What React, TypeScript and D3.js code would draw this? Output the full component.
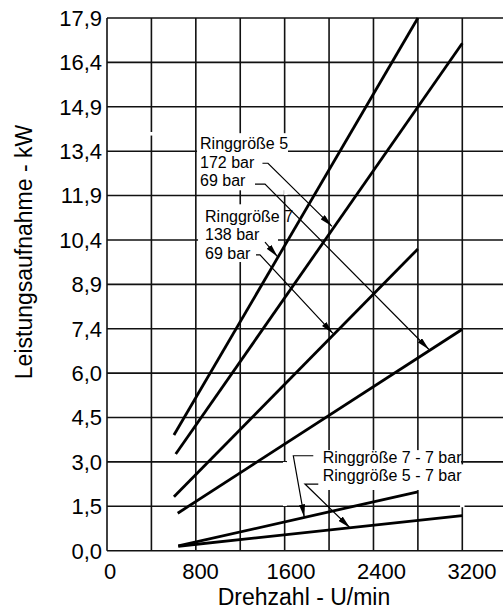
import React, { useEffect, useRef } from 'react';
import * as d3 from 'd3';

// x axis (Drehzahl) and y axis (Leistungsaufnahme) ticks
const xTickValues = [0, 800, 1600, 2400, 3200];
const xGridValues = [0, 400, 800, 1200, 1600, 2000, 2400, 2800, 3200, 3600];
const yTickLabels = ['0,0', '1,5', '3,0', '4,5', '6,0', '7,4', '8,9', '10,4', '11,9', '13,4', '14,9', '16,4', '17,9'];
const yMax = 17.9;

// curves as [U/min, kW]
const rg7bar138 = [[603, 3.89], [2800, 17.9]];
const rg5bar172 = [[619, 3.25], [3200, 17.05]];
const rg7bar69 = [[603, 1.81], [2800, 10.14]];
const rg5bar69 = [[637, 1.26], [3200, 7.44]];
const rg7bar7 = [[642, 0.16], [2800, 1.98]];
const rg5bar7 = [[642, 0.15], [3200, 1.18]];
const curves = [rg7bar138, rg5bar172, rg7bar69, rg5bar69, rg7bar7, rg5bar7];

// label blocks: text lines, anchor [U/min, kW]
const labelBlocks = [
  { lines: ['Ringgröße 5', '172 bar', '69 bar'], at: [838, 13.49] },
  { lines: ['Ringgröße 7', '138 bar', '69 bar'], at: [883, 11.05] },
  { lines: ['Ringgröße 7 - 7 bar', 'Ringgröße 5 - 7 bar'], at: [1943, 2.95] },
];

// leader arrows, last point is the tip
const leaders = [
  [[1400, 13.02], [1450, 13.02], [2026, 10.9]],
  [[1333, 12.32], [1423, 12.32], [2900, 6.76]],
  [[1423, 10.37], [1536, 9.88]],
  [[1342, 9.94], [1378, 9.94], [2035, 7.3]],
  [[1858, 3.19], [1678, 3.19], [1777, 1.12]],
  [[1903, 2.24], [1783, 2.24], [2188, 0.77]],
];

// white areas behind labels that hide the grid: [x0, x1, kWtop, kWbottom]
const gridMasks = [
  [811, 1630, 14.03, 12.11],
  [1595, 1625, 13.38, 11.95],
  [1625, 1630, 11.85, 11.47],
  [820, 1540, 11.64, 9.7],
  [1621, 3188, 3.38, 2.04],
  [1585, 1620, 2.98, 1.5],
  [3180, 3220, 2.9, 1.46],
  [380, 420, 14.07, 13.95],
];

const Chart = () => {
  const svgRef = useRef<SVGSVGElement>(null);

  useEffect(() => {
    const svg = d3.select(svgRef.current);
    const width = 503;
    const height = 614;
    const font = '"Liberation Sans", Arial, Helvetica, sans-serif';
    const lineGap = 18.5;

    svg.attr('width', width).attr('height', height);

    const x = d3.scaleLinear().domain([0, 3200]).range([107, 462.3]);
    const y = d3.scaleLinear().domain([0, yMax]).range([550.7, 18]);
    const yTicks = yTickLabels.map((_, i) => (i * yMax) / 12);

    svg
      .append('defs')
      .append('marker')
      .attr('id', 'arrowhead')
      .attr('viewBox', '0 0 13 6')
      .attr('refX', 13)
      .attr('refY', 3)
      .attr('markerWidth', 13)
      .attr('markerHeight', 6)
      .attr('markerUnits', 'userSpaceOnUse')
      .attr('orient', 'auto')
      .append('path')
      .attr('d', 'M0,0 L13,3 L0,6 Z')
      .attr('fill', '#000');

    // grid
    const grid = svg.append('g').attr('stroke', '#111').attr('stroke-width', 1.6);
    grid
      .selectAll('line.v')
      .data(xGridValues)
      .enter()
      .append('line')
      .attr('class', 'v')
      .attr('x1', d => x(d))
      .attr('x2', d => x(d))
      .attr('y1', y(0))
      .attr('y2', y(yMax));
    grid
      .selectAll('line.h')
      .data(yTicks)
      .enter()
      .append('line')
      .attr('class', 'h')
      .attr('x1', x(0))
      .attr('x2', x(3600))
      .attr('y1', d => y(d))
      .attr('y2', d => y(d));

    // masks behind the labels
    svg
      .selectAll('rect.mask')
      .data(gridMasks)
      .enter()
      .append('rect')
      .attr('class', 'mask')
      .attr('x', d => x(d[0]))
      .attr('width', d => x(d[1]) - x(d[0]))
      .attr('y', d => y(d[2]))
      .attr('height', d => y(d[3]) - y(d[2]))
      .attr('fill', '#fff');

    // tick labels
    svg
      .selectAll('text.ytick')
      .data(yTicks)
      .enter()
      .append('text')
      .attr('class', 'ytick')
      .attr('x', 102)
      .attr('y', d => y(d))
      .attr('dy', '0.36em')
      .attr('text-anchor', 'end')
      .style('font-family', font)
      .style('font-size', '22px')
      .text((_, i) => yTickLabels[i]);

    // x labels sit a little right of their grid lines in the original
    const xLabel = d3.scaleLinear().domain([0, 3200]).range([110, 472]);
    svg
      .selectAll('text.xtick')
      .data(xTickValues)
      .enter()
      .append('text')
      .attr('class', 'xtick')
      .attr('x', d => xLabel(d))
      .attr('y', 579)
      .attr('text-anchor', 'middle')
      .style('font-family', font)
      .style('font-size', '22px')
      .text(d => String(d));

    // axis titles
    svg
      .append('text')
      .attr('x', 304)
      .attr('y', 605)
      .attr('text-anchor', 'middle')
      .style('font-family', font)
      .style('font-size', '23px')
      .text('Drehzahl - U/min');
    svg
      .append('text')
      .attr('transform', 'translate(32,252) rotate(-90)')
      .attr('text-anchor', 'middle')
      .style('font-family', font)
      .style('font-size', '23px')
      .text('Leistungsaufnahme - kW');

    // curves
    const line = d3
      .line<number[]>()
      .x(d => x(d[0]))
      .y(d => y(d[1]));
    svg
      .selectAll('path.curve')
      .data(curves)
      .enter()
      .append('path')
      .attr('class', 'curve')
      .attr('d', d => line(d))
      .attr('fill', 'none')
      .attr('stroke', '#000')
      .attr('stroke-width', 2.8);

    // leaders with arrows
    svg
      .selectAll('path.leader')
      .data(leaders)
      .enter()
      .append('path')
      .attr('class', 'leader')
      .attr('d', d => line(d))
      .attr('fill', 'none')
      .attr('stroke', '#000')
      .attr('stroke-width', 1.2)
      .attr('marker-end', 'url(#arrowhead)');

    // label text
    const blocks = svg
      .selectAll('text.label')
      .data(labelBlocks)
      .enter()
      .append('text')
      .attr('class', 'label')
      .attr('x', d => x(d.at[0]))
      .attr('y', d => y(d.at[1]))
      .style('font-family', font)
      .style('font-size', '16px');
    blocks
      .selectAll('tspan')
      .data(d => d.lines.map(l => ({ l, x: x(d.at[0]) })))
      .enter()
      .append('tspan')
      .attr('x', d => d.x)
      .attr('dy', (_, i) => (i === 0 ? 0 : lineGap))
      .text(d => d.l);

    return () => {
      svg.selectAll('*').remove();
    };
  }, []);

  return <svg ref={svgRef} style={{ position: 'absolute', left: 0, top: 0 }}></svg>;
};

export default function App() {
  return <Chart />;
}
